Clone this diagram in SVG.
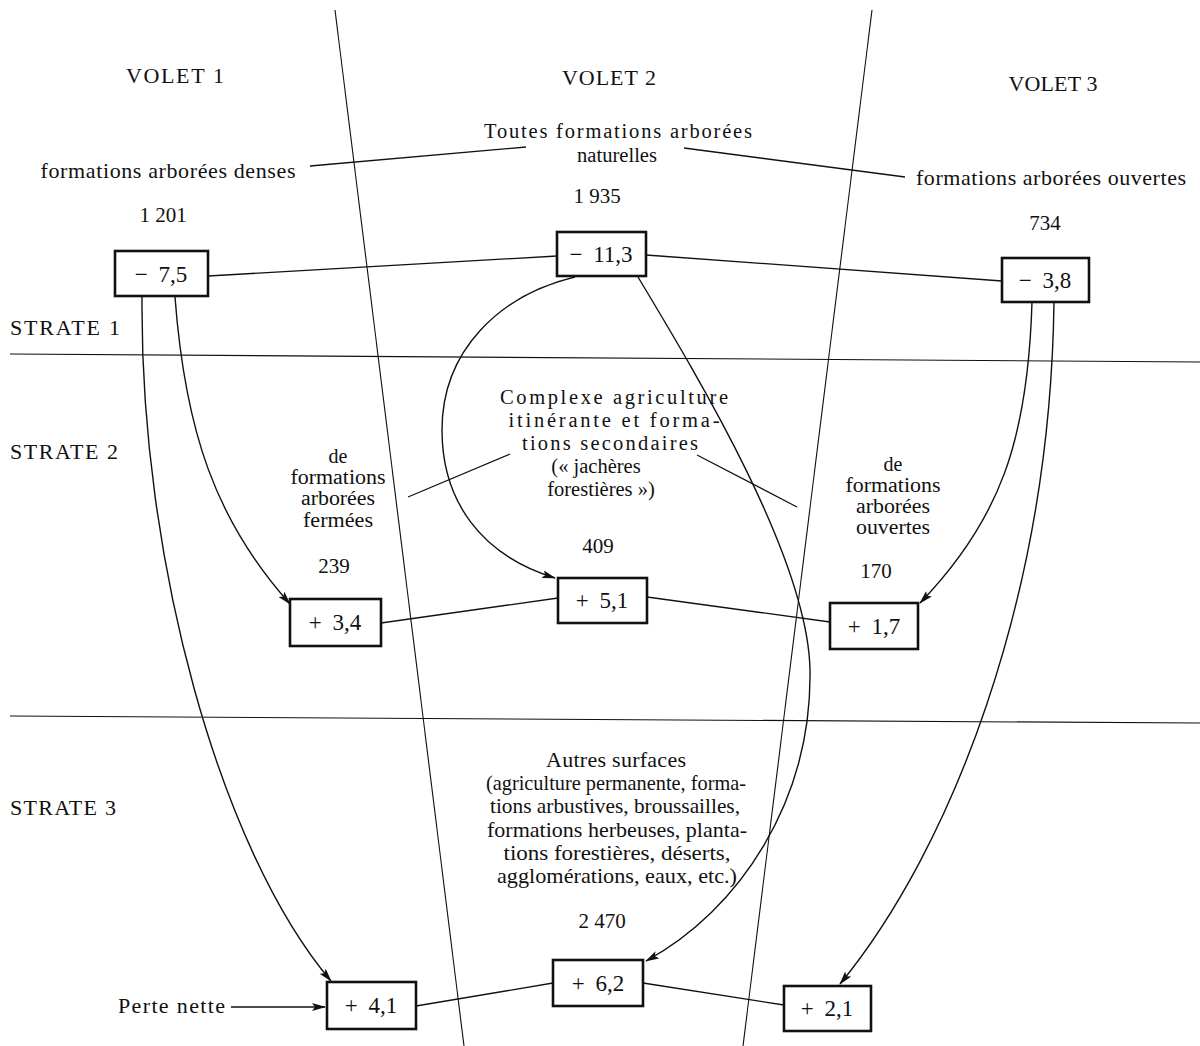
<svg xmlns="http://www.w3.org/2000/svg" width="1200" height="1046" viewBox="0 0 1200 1046">
<style>
text{font-family:"Liberation Serif","Times New Roman",serif;font-size:22px;fill:#111}
.c{text-anchor:middle}
.n{font-size:21px}
.s{font-size:20px}
.m{font-size:20.5px}
.box{fill:#fff;stroke:#111;stroke-width:2.6}
.bt{font-size:23px;text-anchor:middle;word-spacing:5px}
.ln{fill:none;stroke:#111;stroke-width:1.3}
.thin{fill:none;stroke:#111;stroke-width:1.1}
.arr{fill:none;stroke:#111;stroke-width:1.4;marker-end:url(#ah)}
</style>
<defs>
<marker id="ah" viewBox="0 0 14 8" refX="13" refY="4" markerWidth="14" markerHeight="8" markerUnits="userSpaceOnUse" orient="auto">
<path d="M0,0 L14,4 L0,8 L3,4 Z" fill="#111"/>
</marker>
</defs>
<rect width="1200" height="1046" fill="#fff"/>

<g id="grid">
<line class="thin" x1="335" y1="10" x2="464" y2="1046"/>
<line class="thin" x1="872" y1="10" x2="743" y2="1046"/>
<line class="thin" x1="10" y1="354" x2="1200" y2="362"/>
<line class="thin" x1="10" y1="716" x2="1200" y2="723"/>
</g>

<g id="labels">
<text class="c" x="175" y="83" textLength="98" lengthAdjust="spacing">VOLET 1</text>
<text class="c" x="609" y="85" textLength="94" lengthAdjust="spacing">VOLET 2</text>
<text class="c" x="1053" y="91" textLength="89" lengthAdjust="spacing">VOLET 3</text>
<text class="c m" x="618" y="138" textLength="268" lengthAdjust="spacing">Toutes formations arborées</text>
<text class="c m" x="617" y="162" textLength="80" lengthAdjust="spacingAndGlyphs">naturelles</text>
<text class="c" x="168" y="178" textLength="255" lengthAdjust="spacing">formations arborées denses</text>
<text class="c" x="1051" y="185" textLength="270" lengthAdjust="spacing">formations arborées ouvertes</text>
<text class="c n" x="163" y="222">1 201</text>
<text class="c n" x="597" y="203">1 935</text>
<text class="c n" x="1045" y="230">734</text>
<text x="10" y="335" textLength="110" lengthAdjust="spacing">STRATE 1</text>
<text x="10" y="459" textLength="108" lengthAdjust="spacing">STRATE 2</text>
<text x="10" y="815" textLength="106" lengthAdjust="spacing">STRATE 3</text>
<text class="c m" x="614" y="404" textLength="228" lengthAdjust="spacing">Complexe agriculture</text>
<text class="c m" x="614" y="427" textLength="211" lengthAdjust="spacing">itinérante et forma-</text>
<text class="c m" x="610" y="450" textLength="176" lengthAdjust="spacing">tions secondaires</text>
<text class="c m" x="596" y="473">(« jachères</text>
<text class="c m" x="601" y="496">forestières »)</text>
<text class="c s" x="338" y="463">de</text>
<text class="c s" x="338" y="484" textLength="95" lengthAdjust="spacingAndGlyphs">formations</text>
<text class="c s" x="338" y="505" textLength="74" lengthAdjust="spacingAndGlyphs">arborées</text>
<text class="c s" x="338" y="527" textLength="70" lengthAdjust="spacingAndGlyphs">fermées</text>
<text class="c s" x="893" y="471">de</text>
<text class="c s" x="893" y="492" textLength="95" lengthAdjust="spacingAndGlyphs">formations</text>
<text class="c s" x="893" y="513" textLength="74" lengthAdjust="spacingAndGlyphs">arborées</text>
<text class="c s" x="893" y="534" textLength="74" lengthAdjust="spacingAndGlyphs">ouvertes</text>
<text class="c n" x="334" y="573">239</text>
<text class="c n" x="598" y="553">409</text>
<text class="c n" x="876" y="578">170</text>
<text class="c" x="616" y="767" textLength="140" lengthAdjust="spacing">Autres surfaces</text>
<text class="c" x="616" y="790" textLength="260" lengthAdjust="spacingAndGlyphs">(agriculture permanente, forma-</text>
<text class="c" x="615" y="813" textLength="250" lengthAdjust="spacingAndGlyphs">tions arbustives, broussailles,</text>
<text class="c" x="617" y="837" textLength="260" lengthAdjust="spacingAndGlyphs">formations herbeuses, planta-</text>
<text class="c" x="617" y="860" textLength="227" lengthAdjust="spacingAndGlyphs">tions forestières, déserts,</text>
<text class="c" x="617" y="883" textLength="240" lengthAdjust="spacingAndGlyphs">agglomérations, eaux, etc.)</text>
<text class="c n" x="602" y="928">2 470</text>
<text x="118" y="1013" textLength="107" lengthAdjust="spacing">Perte nette</text>
</g>

<g id="connectors">
<line class="ln" x1="310" y1="166" x2="526" y2="147"/>
<line class="ln" x1="684" y1="148" x2="905" y2="177"/>
<line class="ln" x1="408" y1="497" x2="510" y2="454"/>
<line class="ln" x1="697" y1="455" x2="797" y2="507"/>
<line class="ln" x1="208" y1="276" x2="557" y2="256"/>
<line class="ln" x1="646" y1="255" x2="1002" y2="281"/>
<line class="ln" x1="381" y1="623" x2="558" y2="598"/>
<line class="ln" x1="647" y1="597" x2="830" y2="622"/>
<line class="ln" x1="416" y1="1006" x2="553" y2="983"/>
<line class="ln" x1="643" y1="983" x2="784" y2="1005"/>
<path class="arr" d="M142,297 C140,560 220,850 331,981"/>
<path class="arr" d="M175,297 C185,430 215,520 290,604"/>
<path class="arr" d="M575,277 C500,295 442,350 442,430 C442,500 480,555 555,578"/>
<path class="arr" d="M638,277 C700,380 808,560 810,670 C812,800 740,910 646,961"/>
<path class="arr" d="M1032,302 C1028,440 1000,520 920,603"/>
<path class="arr" d="M1054,302 C1050,600 950,850 840,984"/>
<line class="arr" x1="231" y1="1007" x2="325" y2="1007"/>
</g>

<g id="n-75"><rect class="box" x="115" y="251" width="93" height="45"/><text class="bt" x="161" y="282">− 7,5</text></g>
<g id="n-113"><rect class="box" x="557" y="232" width="89" height="44"/><text class="bt" x="601" y="262">− 11,3</text></g>
<g id="n-38"><rect class="box" x="1002" y="258" width="87" height="44"/><text class="bt" x="1045" y="288">− 3,8</text></g>
<g id="n-34"><rect class="box" x="290" y="599" width="91" height="47"/><text class="bt" x="335" y="630">+ 3,4</text></g>
<g id="n-51"><rect class="box" x="558" y="578" width="89" height="45"/><text class="bt" x="602" y="608">+ 5,1</text></g>
<g id="n-17"><rect class="box" x="830" y="603" width="88" height="46"/><text class="bt" x="874" y="634">+ 1,7</text></g>
<g id="n-41"><rect class="box" x="327" y="982" width="89" height="47"/><text class="bt" x="371" y="1013">+ 4,1</text></g>
<g id="n-62"><rect class="box" x="553" y="960" width="90" height="46"/><text class="bt" x="598" y="991">+ 6,2</text></g>
<g id="n-21"><rect class="box" x="784" y="986" width="87" height="45"/><text class="bt" x="827" y="1016">+ 2,1</text></g>
</svg>
